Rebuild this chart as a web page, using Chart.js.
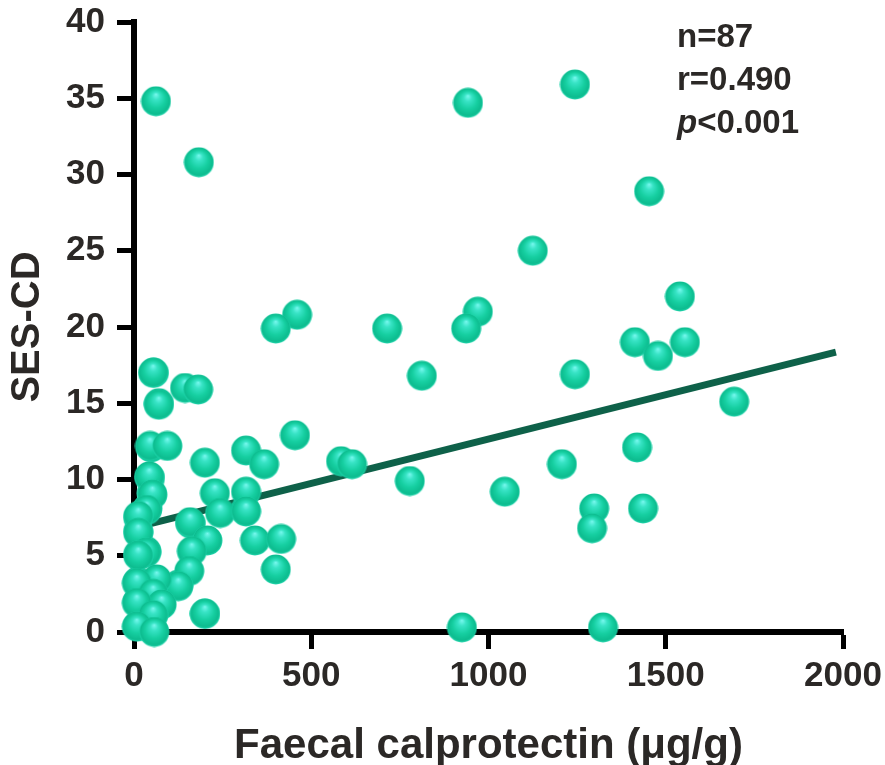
<!DOCTYPE html>
<html>
<head>
<meta charset="utf-8">
<script src="https://cdn.jsdelivr.net/npm/chart.js@4"></script>
<style>
  html, body { margin: 0; padding: 0; background: #fff; }
  #wrap { width: 885px; height: 765px; }
</style>
</head>
<body>
<div id="wrap"><canvas id="chart" width="885" height="765"></canvas></div>
<script>
/* ── Data ── */
// patients hidden under others in the crowded low-calprotectin corner
const hiddenX = [10, 55, 10, 55, 10, 55, 12, 35, 12, 12, 38, 50, 45, 48, 56, 70, 160, 125, 200, 314];
const hiddenY = [0.4, 0.1, 2.0, 1.2, 3.3, 2.6, 5.1, 5.3, 6.6, 7.5, 8.1, 9.1, 10.1, 12.1, 17.0, 15.0, 7.1, 3.1, 1.2, 8.0];

// visible patients
const calprotectin = [
  62, 183, 1244, 942, 1453, 1125, 1540, 970, 937, 714, 460, 400, 1413, 1554, 1478, 812,
  1244, 1693, 454, 1419, 316, 367, 584, 615, 1207, 778, 1046, 1298, 1436, 1292, 925, 1323,
  54, 144, 181, 70, 45, 94, 200, 43, 52, 228, 316, 36, 12, 243, 316, 158,
  12, 207, 163, 34, 12, 156, 125, 64, 8, 54, 78, 8, 54, 200, 8, 57, 341, 415, 400
];
const sesCd = [
  34.8, 30.8, 35.9, 34.7, 28.9, 25.0, 22.0, 21.0, 19.9, 19.9, 20.8, 19.9, 19.0, 19.0, 18.1, 16.8,
  16.9, 15.1, 12.9, 12.1, 11.9, 11.0, 11.2, 11.0, 11.0, 9.9, 9.2, 8.1, 8.1, 6.8, 0.3, 0.3,
  17.0, 16.0, 15.9, 14.9, 12.2, 12.2, 11.1, 10.2, 9.0, 9.1, 9.2, 8.0, 7.6, 7.8, 7.9, 7.2,
  6.5, 6.0, 5.3, 5.2, 5.0, 4.0, 3.0, 3.45, 3.2, 2.5, 1.8, 1.9, 1.1, 1.2, 0.35, 0.0, 6.0, 6.1, 4.1
];

// fitted regression line end points
const fitX = [10, 1980];
const fitY = [6.9, 18.35];

const xTicks = [0, 500, 1000, 1500, 2000];
const yTicks = [0, 5, 10, 15, 20, 25, 30, 35, 40];
const statsLines = ['n=87', 'r=0.490', '<0.001'];

/* ── Glossy sphere marker ── */
function sphere(size) {
  const c = document.createElement('canvas');
  c.width = size; c.height = size;
  const g = c.getContext('2d');
  const r = size / 2;
  const grad = g.createRadialGradient(r, r * 0.55, 0, r, r, r);
  grad.addColorStop(0, '#7af9f0');
  grad.addColorStop(0.25, '#38e4c6');
  grad.addColorStop(0.6, '#16cfa1');
  grad.addColorStop(0.88, '#0dbc8f');
  grad.addColorStop(1, '#25dcb4');
  g.fillStyle = grad;
  g.beginPath();
  g.arc(r, r, r - 0.5, 0, Math.PI * 2);
  g.fill();
  return c;
}
const marker = sphere(31);

const points = hiddenX.map((x, i) => ({ x, y: hiddenY[i] }))
  .concat(calprotectin.map((x, i) => ({ x, y: sesCd[i] })));
const fit = fitX.map((x, i) => ({ x, y: fitY[i] }));

const INK = '#2b2826';
const FAMILY = "'Liberation Sans', Arial, sans-serif";
const TICK_FONT = { family: FAMILY, size: 35, weight: 'bold', lineHeight: 1 };

/* ── Stats text in the upper right ── */
const statsPlugin = {
  id: 'stats',
  afterDraw(chart) {
    const ctx = chart.ctx;
    ctx.save();
    ctx.fillStyle = INK;
    ctx.textBaseline = 'alphabetic';
    ctx.textAlign = 'left';
    ctx.font = `bold 33px ${FAMILY}`;
    ctx.fillText(statsLines[0], 677, 47);
    ctx.fillText(statsLines[1], 677, 90);
    ctx.font = `italic bold 33px ${FAMILY}`;
    ctx.fillText('p', 677, 133);
    const w = ctx.measureText('p').width;
    ctx.font = `bold 33px ${FAMILY}`;
    ctx.fillText(statsLines[2], 677 + w, 133);
    ctx.restore();
  }
};

new Chart(document.getElementById('chart'), {
  type: 'scatter',
  data: {
    datasets: [
      {
        type: 'scatter',
        data: points,
        pointStyle: marker,
        pointRadius: 15,
        clip: false,
        order: 0,
      },
      {
        type: 'line',
        data: fit,
        borderColor: '#0e6149',
        borderWidth: 7,
        pointRadius: 0,
        fill: false,
        clip: false,
        order: 1,
      },
    ],
  },
  options: {
    responsive: false,
    animation: false,
    layout: { padding: { left: 0, right: 42, top: 22, bottom: 0 } },
    plugins: { legend: { display: false }, tooltip: { enabled: false } },
    scales: {
      x: {
        type: 'linear', min: 0, max: 2000,
        afterBuildTicks: s => { s.ticks = xTicks.map(v => ({ value: v })); },
        afterFit: s => { s.height = 133; s.paddingLeft = 0; s.paddingRight = 0; },
        grid: { drawOnChartArea: false, drawTicks: true, tickLength: 17, tickWidth: 5, tickColor: '#000' },
        border: { display: true, width: 6, color: '#000' },
        ticks: { color: INK, font: TICK_FONT, padding: 10, maxRotation: 0, callback: v => String(v) },
        title: {
          display: true, text: 'Faecal calprotectin (μg/g)', color: INK,
          font: { family: FAMILY, size: 42, weight: 'bold', lineHeight: 1 },
          padding: { top: 0, bottom: -2 },
        },
      },
      y: {
        type: 'linear', min: 0, max: 40,
        afterBuildTicks: s => { s.ticks = yTicks.map(v => ({ value: v })); },
        afterFit: s => { s.width = 134; s.paddingTop = 0; s.paddingBottom = 0; },
        grid: { drawOnChartArea: false, drawTicks: true, tickLength: 17, tickWidth: 5, tickColor: '#000' },
        border: { display: true, width: 6, color: '#000' },
        ticks: { color: INK, font: TICK_FONT, padding: 12, callback: v => String(v) },
        title: {
          display: true, text: 'SES-CD', color: INK,
          font: { family: FAMILY, size: 40, weight: 'bold', lineHeight: 1 },
          padding: { top: 8, bottom: 0 },
        },
      },
    },
  },
  plugins: [statsPlugin],
});
</script>
</body>
</html>
